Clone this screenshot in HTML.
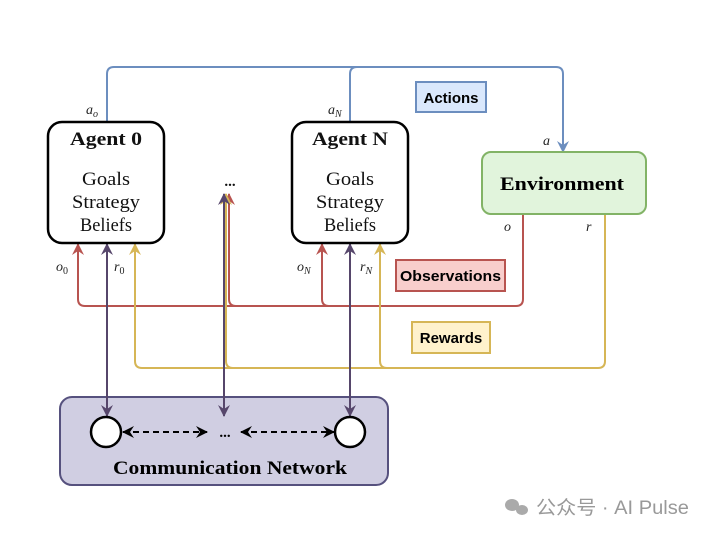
<!DOCTYPE html>
<html><head><style>
body{margin:0;background:#fff;width:712px;height:535px;overflow:hidden}
svg{display:block}
.s{font-family:"Liberation Serif",serif}
.b{font-family:"Liberation Sans",sans-serif;font-weight:bold}
</style></head><body>
<svg width="712" height="535" viewBox="0 0 712 535" xmlns="http://www.w3.org/2000/svg">
<defs>
<marker id="mb" markerWidth="14" markerHeight="14" refX="11" refY="6" orient="auto-start-reverse" markerUnits="userSpaceOnUse"><path d="M0,0 L12,6 L0,12 L4,6z" fill="#6c8ebf"/></marker>
<marker id="mr" markerWidth="14" markerHeight="14" refX="11" refY="6" orient="auto-start-reverse" markerUnits="userSpaceOnUse"><path d="M0,0 L12,6 L0,12 L4,6z" fill="#b85450"/></marker>
<marker id="my" markerWidth="14" markerHeight="14" refX="11" refY="6" orient="auto-start-reverse" markerUnits="userSpaceOnUse"><path d="M0,0 L12,6 L0,12 L4,6z" fill="#d6b656"/></marker>
<marker id="mp" markerWidth="14" markerHeight="14" refX="11" refY="6" orient="auto-start-reverse" markerUnits="userSpaceOnUse"><path d="M0,0 L12,6 L0,12 L4,6z" fill="#56466b"/></marker>
<marker id="mk" markerWidth="14" markerHeight="14" refX="11" refY="6" orient="auto-start-reverse" markerUnits="userSpaceOnUse"><path d="M0,0 L12,6 L0,12 L4,6z" fill="#000"/></marker>
</defs>
<rect x="60" y="397" width="328" height="88" rx="12" fill="#d0cee2" stroke="#56517e" stroke-width="2"/>
<g fill="none" stroke-width="2">
<path d="M107,122 V74 Q107,67 114,67 H556 Q563,67 563,74 V152" stroke="#6c8ebf" marker-end="url(#mb)"/>
<path d="M350,122 V74 Q350,67 357,67" stroke="#6c8ebf"/>
<path d="M523,214 V299 Q523,306 516,306 H85 Q78,306 78,299 V244" stroke="#b85450" marker-end="url(#mr)"/>
<path d="M329,306 Q322,306 322,299 V244" stroke="#b85450" marker-end="url(#mr)"/>
<path d="M236,306 Q229,306 229,299 V194" stroke="#b85450" marker-end="url(#mr)"/>
<path d="M608,206 Q605,206 605,209 V361 Q605,368 598,368 H142 Q135,368 135,361 V244" stroke="#d6b656" marker-end="url(#my)"/>
<path d="M387,368 Q380,368 380,361 V244" stroke="#d6b656" marker-end="url(#my)"/>
<path d="M233,368 Q226,368 226,361 V194" stroke="#d6b656" marker-end="url(#my)"/>
<path d="M107,416 V244" stroke="#56466b" marker-start="url(#mp)" marker-end="url(#mp)"/>
<path d="M224,416 V194" stroke="#56466b" marker-start="url(#mp)" marker-end="url(#mp)"/>
<path d="M350,416 V244" stroke="#56466b" marker-start="url(#mp)" marker-end="url(#mp)"/>
</g>
<rect x="48" y="122" width="116" height="121" rx="14" fill="#fff" stroke="#000" stroke-width="2.5"/>
<rect x="292" y="122" width="116" height="121" rx="14" fill="#fff" stroke="#000" stroke-width="2.5"/>
<g class="s" font-size="19" text-anchor="middle" fill="#111">
<text x="106" y="145" font-weight="bold" textLength="72" lengthAdjust="spacingAndGlyphs">Agent 0</text>
<text x="106" y="185" textLength="48" lengthAdjust="spacingAndGlyphs">Goals</text><text x="106" y="208" textLength="68" lengthAdjust="spacingAndGlyphs">Strategy</text><text x="106" y="231" textLength="52" lengthAdjust="spacingAndGlyphs">Beliefs</text>
<text x="350" y="145" font-weight="bold" textLength="76" lengthAdjust="spacingAndGlyphs">Agent N</text>
<text x="350" y="185" textLength="48" lengthAdjust="spacingAndGlyphs">Goals</text><text x="350" y="208" textLength="68" lengthAdjust="spacingAndGlyphs">Strategy</text><text x="350" y="231" textLength="52" lengthAdjust="spacingAndGlyphs">Beliefs</text>
<text x="230" y="186" font-weight="bold" font-size="15">...</text>
</g>
<rect x="482" y="152" width="164" height="62" rx="9" fill="#e1f4dc" stroke="#82b366" stroke-width="2"/>
<text x="562" y="190" class="s" font-size="19" font-weight="bold" text-anchor="middle" textLength="124" lengthAdjust="spacingAndGlyphs">Environment</text>
<rect x="416" y="82" width="70" height="30" fill="#dae8fc" stroke="#6c8ebf" stroke-width="2"/>
<text x="451" y="103" class="b" font-size="15" text-anchor="middle">Actions</text>
<rect x="396" y="260" width="109" height="31" fill="#f8cecc" stroke="#b85450" stroke-width="2"/>
<text x="450.5" y="281" class="b" font-size="15" text-anchor="middle" textLength="101" lengthAdjust="spacingAndGlyphs">Observations</text>
<rect x="412" y="322" width="78" height="31" fill="#fff2cc" stroke="#d6b656" stroke-width="2"/>
<text x="451" y="343" class="b" font-size="15" text-anchor="middle">Rewards</text>
<g class="s" font-style="italic" font-size="14" fill="#222">
<text x="86" y="114">a<tspan font-size="10" dy="3">o</tspan></text>
<text x="328" y="114">a<tspan font-size="10" dy="3">N</tspan></text>
<text x="543" y="145">a</text>
<text x="504" y="231">o</text>
<text x="586" y="231">r</text>
<text x="56" y="271">o<tspan font-size="10" dy="3" font-style="normal">0</tspan></text>
<text x="114" y="271">r<tspan font-size="10" dy="3" font-style="normal">0</tspan></text>
<text x="297" y="271">o<tspan font-size="10" dy="3">N</tspan></text>
<text x="360" y="271">r<tspan font-size="10" dy="3">N</tspan></text>
</g>
<circle cx="106" cy="432" r="15" fill="#fff" stroke="#000" stroke-width="2.5"/>
<circle cx="350" cy="432" r="15" fill="#fff" stroke="#000" stroke-width="2.5"/>
<g fill="none" stroke="#000" stroke-width="2" stroke-dasharray="6,4">
<path d="M123,432 H207" marker-start="url(#mk)" marker-end="url(#mk)"/>
<path d="M241,432 H334" marker-start="url(#mk)" marker-end="url(#mk)"/>
</g>
<text x="225" y="437" class="s" font-size="15" font-weight="bold" text-anchor="middle">...</text>
<text x="230" y="474" class="s" font-size="19" font-weight="bold" text-anchor="middle" textLength="234" lengthAdjust="spacingAndGlyphs">Communication Network</text>
<g fill="#aaa">
<ellipse cx="512" cy="505" rx="7" ry="6"/><ellipse cx="522" cy="510" rx="6" ry="5"/>
</g>
<text x="536" y="514" font-family="'Liberation Sans','Noto Sans CJK SC',sans-serif" font-size="19" fill="#999" textLength="153" lengthAdjust="spacingAndGlyphs">公众号 · AI Pulse</text>
</svg>
</body></html>
